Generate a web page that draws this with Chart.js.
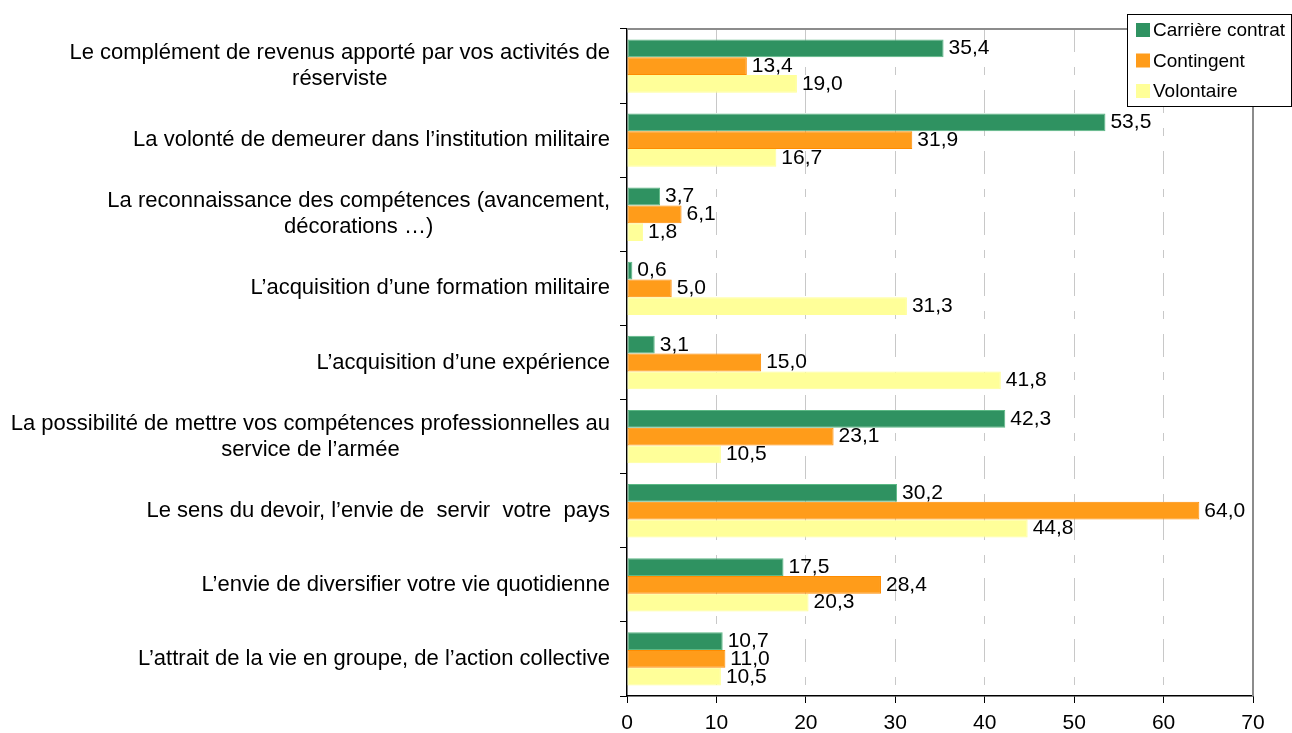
<!DOCTYPE html>
<html>
<head>
<meta charset="utf-8">
<script src="https://cdn.jsdelivr.net/npm/chart.js@4/dist/chart.umd.min.js"></script>
<style>
  html, body { margin: 0; padding: 0; background: #fff; }
  #wrap { width: 1292px; height: 733px; }
</style>
</head>
<body>
<div id="wrap"><canvas id="chart" width="1292" height="733"></canvas></div>
<script>
const categories = [
    ["Le complément de revenus apporté par vos activités de", "réserviste"],
    "La volonté de demeurer dans l\u2019institution militaire",
    ["La reconnaissance des compétences (avancement,", "décorations \u2026)"],
    "L\u2019acquisition d\u2019une formation militaire",
    "L\u2019acquisition d\u2019une expérience",
    ["La possibilité de mettre vos compétences professionnelles au", "service de l\u2019armée"],
    "Le sens du devoir, l\u2019envie de  servir  votre  pays",
    "L\u2019envie de diversifier votre vie quotidienne",
    "L\u2019attrait de la vie en groupe, de l\u2019action collective"
];

const seriesNames = ["Carrière contrat", "Contingent", "Volontaire"];

const carriereContrat = [35.4, 53.5, 3.7, 0.6, 3.1, 42.3, 30.2, 17.5, 10.7];
const contingent = [13.4, 31.9, 6.1, 5.0, 15.0, 23.1, 64.0, 28.4, 11.0];
const volontaire = [19.0, 16.7, 1.8, 31.3, 41.8, 10.5, 44.8, 20.3, 10.5];

const xTicks = [0, 10, 20, 30, 40, 50, 60, 70];

const fillColors = ['#2f9261', '#ff9c1a', '#ffff99'];
const edgeColors = ['#5cb985', '#ff8c00', '#ffff99'];

const fontFamily = '"Liberation Sans", Arial, sans-serif';

function fmt(v) {
    return v.toFixed(1).replace('.', ',');
}

// category labels: block right-aligned to the axis, lines centred inside it
const categoryLabels = {
    id: 'categoryLabels',
    afterDraw(chart) {
        const ctx = chart.ctx;
        const y = chart.scales.y;
        const right = y.right - 17;
        ctx.save();
        ctx.font = '22px ' + fontFamily;
        ctx.fillStyle = '#000';
        ctx.textAlign = 'center';
        ctx.textBaseline = 'middle';
        categories.forEach((label, i) => {
            const lines = Array.isArray(label) ? label : [label];
            const w = Math.max(...lines.map(l => ctx.measureText(l).width));
            const cx = right - w / 2;
            const cy = y.getPixelForTick(i);
            lines.forEach((line, k) => {
                ctx.fillText(line, cx, cy + (k - (lines.length - 1) / 2) * 26);
            });
        });
        ctx.restore();
    }
};

// value labels at the end of each bar
const valueLabels = {
    id: 'valueLabels',
    afterDatasetsDraw(chart) {
        const ctx = chart.ctx;
        ctx.save();
        ctx.font = '21px ' + fontFamily;
        ctx.fillStyle = '#000';
        ctx.textAlign = 'left';
        ctx.textBaseline = 'middle';
        chart.data.datasets.forEach((ds, i) => {
            chart.getDatasetMeta(i).data.forEach((bar, j) => {
                ctx.fillText(fmt(ds.data[j]), bar.x + 5, bar.y);
            });
        });
        ctx.restore();
    }
};

// gray frame on top/right, boxed legend
const frameAndLegend = {
    id: 'frameAndLegend',
    afterDraw(chart) {
        const ctx = chart.ctx;
        const a = chart.chartArea;
        ctx.save();
        ctx.strokeStyle = '#8c8c8c';
        ctx.lineWidth = 2;
        ctx.beginPath();
        ctx.moveTo(a.left, a.top);
        ctx.lineTo(a.right, a.top);
        ctx.lineTo(a.right, a.bottom);
        ctx.stroke();

        // legend box
        const bx = 1127, by = 14, bw = 164, bh = 92;
        ctx.fillStyle = '#fff';
        ctx.fillRect(bx, by, bw, bh);
        ctx.strokeStyle = '#000';
        ctx.lineWidth = 1;
        ctx.strokeRect(bx + 0.5, by + 0.5, bw, bh);
        ctx.font = '19px ' + fontFamily;
        ctx.textBaseline = 'middle';
        ctx.textAlign = 'left';
        seriesNames.forEach((name, i) => {
            const cy = 30 + i * 30.5;
            ctx.fillStyle = fillColors[i];
            ctx.fillRect(bx + 9, cy - 7, 14, 14);
            ctx.fillStyle = '#000';
            ctx.fillText(name, bx + 26, cy + 1);
        });
        ctx.restore();
    }
};

const datasets = [carriereContrat, contingent, volontaire].map((values, i) => ({
    label: seriesNames[i],
    data: values,
    backgroundColor: fillColors[i],
    borderColor: edgeColors[i],
    borderWidth: 1,
    borderSkipped: false,
    categoryPercentage: 0.72,
    barPercentage: 1.0
}));

new Chart(document.getElementById('chart'), {
    type: 'bar',
    data: {
        labels: categories,
        datasets: datasets
    },
    options: {
        indexAxis: 'y',
        responsive: false,
        animation: false,
        layout: {
            padding: { top: 29, right: 39, bottom: 0, left: 0 }
        },
        plugins: {
            legend: { display: false },
            tooltip: { enabled: false }
        },
        scales: {
            x: {
                min: 0,
                max: 70,
                afterBuildTicks(scale) {
                    scale.ticks = xTicks.map(v => ({ value: v }));
                },
                afterFit(scale) {
                    scale.height = 37;
                },
                grid: {
                    color: (c) => (c.tick && (c.tick.value === 0 || c.tick.value === 70)) ? 'rgba(0,0,0,0)' : '#c8c8c8',
                    tickColor: '#000',
                    tickLength: 7,
                    lineWidth: 1
                },
                border: { display: true, color: '#000', width: 1.5, dash: [23, 15, 8, 15] },
                ticks: {
                    color: '#000',
                    padding: 8,
                    font: { family: fontFamily, size: 21 },
                    maxRotation: 0
                }
            },
            y: {
                afterFit(scale) {
                    scale.width = 627;
                },
                grid: {
                    offset: true,
                    drawOnChartArea: false,
                    tickColor: '#000',
                    tickLength: 7
                },
                border: { display: true, color: '#000', width: 1.5 },
                ticks: {
                    display: false
                }
            }
        }
    },
    plugins: [valueLabels, categoryLabels, frameAndLegend]
});
</script>
</body>
</html>
